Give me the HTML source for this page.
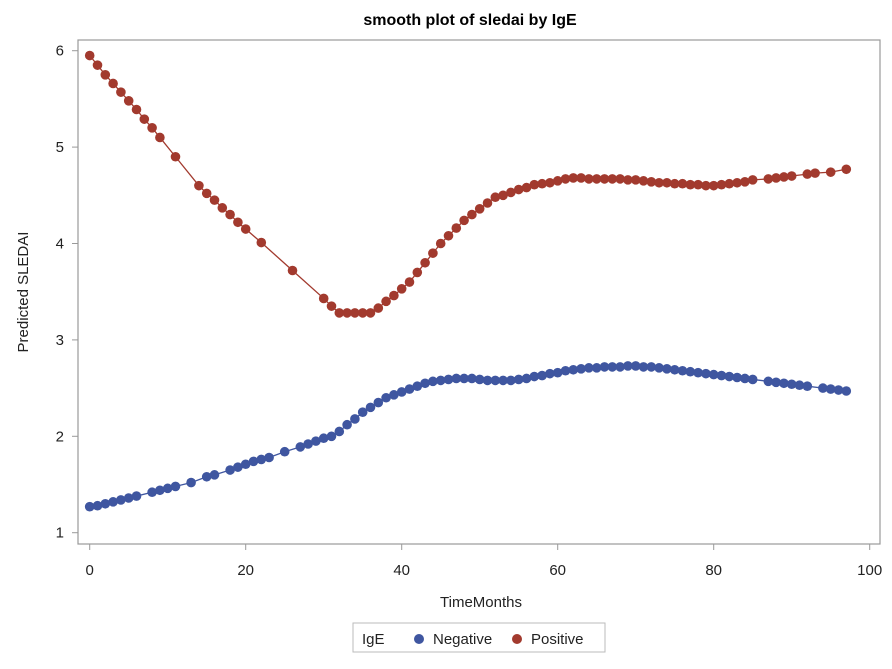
<!DOCTYPE html>
<html><head><meta charset="utf-8"><style>
body{margin:0;background:#fff;}
svg text{font-family:"Liberation Sans",Arial,sans-serif;}
</style></head><body>
<svg id="chart" width="892" height="664" viewBox="0 0 892 664" xmlns="http://www.w3.org/2000/svg">
<rect width="892" height="664" fill="#fff"/>
<text x="470" y="25" text-anchor="middle" font-size="16" font-weight="bold" fill="#000">smooth plot of sledai by IgE</text>
<rect x="78" y="40" width="802" height="504" fill="none" stroke="#999" stroke-width="1.2"/>
<g id="xaxis"></g>
<g id="yaxis"></g>
<text x="481" y="607" text-anchor="middle" font-size="15" fill="#222">TimeMonths</text>
<text transform="translate(28,292) rotate(-90)" text-anchor="middle" font-size="15" fill="#222">Predicted SLEDAI</text>
<g id="series"></g>
<g>
<rect x="353" y="623" width="252" height="29" fill="#fff" stroke="#bbb"/>
<text x="362" y="644" font-size="15" fill="#222">IgE</text>
<circle cx="419" cy="639" r="5" fill="#3F56A0"/>
<text x="433" y="644" font-size="15" fill="#222">Negative</text>
<circle cx="517" cy="639" r="5" fill="#A23A2E"/>
<text x="531" y="644" font-size="15" fill="#222">Positive</text>
</g>
</svg>
<script>
const xTicks=[0,20,40,60,80,100];
const yTicks=[1,2,3,4,5,6];
const posX=[0,1,2,3,4,5,6,7,8,9,11,14,15,16,17,18,19,20,22,26,30,31,32,33,34,35,36,37,38,39,40,41,42,43,44,45,46,47,48,49,50,51,52,53,54,55,56,57,58,59,60,61,62,63,64,65,66,67,68,69,70,71,72,73,74,75,76,77,78,79,80,81,82,83,84,85,87,88,89,90,92,93,95,97];
const posY=[5.95,5.85,5.75,5.66,5.57,5.48,5.39,5.29,5.2,5.1,4.9,4.6,4.52,4.45,4.37,4.3,4.22,4.15,4.01,3.72,3.43,3.35,3.28,3.28,3.28,3.28,3.28,3.33,3.4,3.46,3.53,3.6,3.7,3.8,3.9,4.0,4.08,4.16,4.24,4.3,4.36,4.42,4.48,4.5,4.53,4.56,4.58,4.61,4.62,4.63,4.65,4.67,4.68,4.68,4.67,4.67,4.67,4.67,4.67,4.66,4.66,4.65,4.64,4.63,4.63,4.62,4.62,4.61,4.61,4.6,4.6,4.61,4.62,4.63,4.64,4.66,4.67,4.68,4.69,4.7,4.72,4.73,4.74,4.77];
const negX=[0,1,2,3,4,5,6,8,9,10,11,13,15,16,18,19,20,21,22,23,25,27,28,29,30,31,32,33,34,35,36,37,38,39,40,41,42,43,44,45,46,47,48,49,50,51,52,53,54,55,56,57,58,59,60,61,62,63,64,65,66,67,68,69,70,71,72,73,74,75,76,77,78,79,80,81,82,83,84,85,87,88,89,90,91,92,94,95,96,97];
const negY=[1.27,1.28,1.3,1.32,1.34,1.36,1.38,1.42,1.44,1.46,1.48,1.52,1.58,1.6,1.65,1.68,1.71,1.74,1.76,1.78,1.84,1.89,1.92,1.95,1.98,2.0,2.05,2.12,2.18,2.25,2.3,2.35,2.4,2.43,2.46,2.49,2.52,2.55,2.57,2.58,2.59,2.6,2.6,2.6,2.59,2.58,2.58,2.58,2.58,2.59,2.6,2.62,2.63,2.65,2.66,2.68,2.69,2.7,2.71,2.71,2.72,2.72,2.72,2.73,2.73,2.72,2.72,2.71,2.7,2.69,2.68,2.67,2.66,2.65,2.64,2.63,2.62,2.61,2.6,2.59,2.57,2.56,2.55,2.54,2.53,2.52,2.5,2.49,2.48,2.47];
const NS="http://www.w3.org/2000/svg";
function sx(v){return 89.7+v*7.8;}
function sy(v){return 532.7-(v-1)*96.4;}
function mk(tag,attrs,parent){const e=document.createElementNS(NS,tag);for(const k in attrs)e.setAttribute(k,attrs[k]);parent.appendChild(e);return e;}
const xa=document.getElementById('xaxis'),ya=document.getElementById('yaxis'),sg=document.getElementById('series');
xTicks.forEach(t=>{
  const l=mk('line',{x1:sx(t),x2:sx(t),y1:544,y2:550,stroke:'#999'},xa);
  
  
  const tx=mk('text',{x:sx(t),y:575,'text-anchor':'middle','font-size':15,fill:'#222'},xa);
  tx.textContent=t;
  
  
});
yTicks.forEach(t=>{
  const l=mk('line',{x1:72,x2:78,y1:sy(t),y2:sy(t),stroke:'#999'},ya);
  
  
  const tx=mk('text',{x:64,y:sy(t)+5,'text-anchor':'end','font-size':15,fill:'#222'},ya);
  tx.textContent=t;
  
  
});
function drawSeries(xs,ys,col,name){
  const g=mk('g',{},sg);
  
  
  const pts=xs.map((x,i)=>sx(x)+','+sy(ys[i])).join(' ');
  const pl=mk('polyline',{points:pts,fill:'none',stroke:col,'stroke-width':1.3},g);
  
  
  xs.forEach((x,i)=>{
    const c=mk('circle',{cx:sx(x),cy:sy(ys[i]),r:4.8,fill:col},g);
    
    
  });
}
drawSeries(negX,negY,'#3F56A0','negative');
drawSeries(posX,posY,'#A23A2E','positive');
</script>
</body></html>
